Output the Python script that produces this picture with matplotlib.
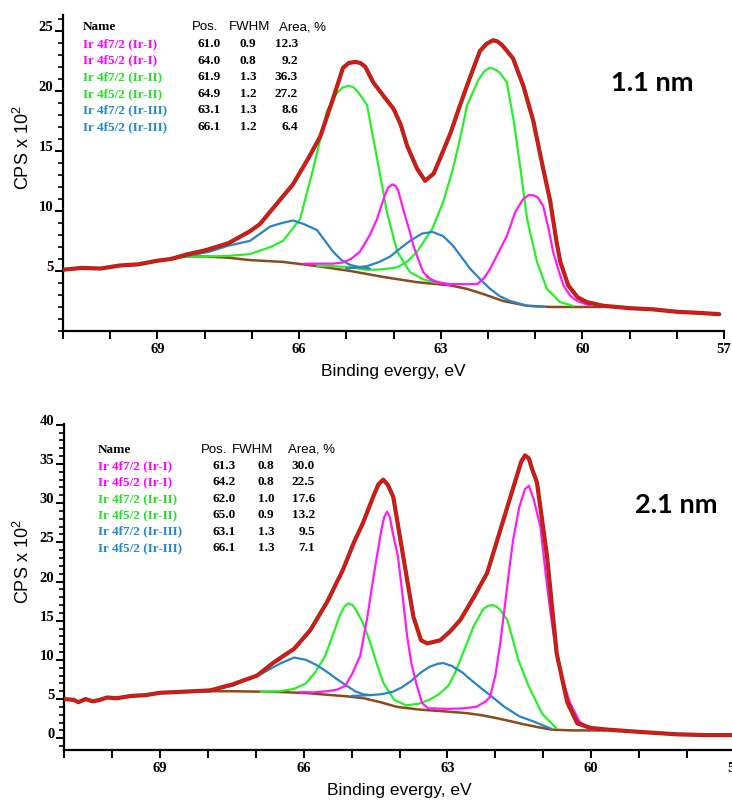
import matplotlib
matplotlib.use("Agg")
import matplotlib.pyplot as plt
from matplotlib.ticker import MultipleLocator

# ---------------- fit table (both films) ----------------
comp_names = ["Ir 4f7/2 (Ir-I)", "Ir 4f5/2 (Ir-I)", "Ir 4f7/2 (Ir-II)",
              "Ir 4f5/2 (Ir-II)", "Ir 4f7/2 (Ir-III)", "Ir 4f5/2 (Ir-III)"]
pos_11 = [61.0, 64.0, 61.9, 64.9, 63.1, 66.1]
fwhm_11 = [0.9, 0.8, 1.3, 1.2, 1.3, 1.2]
area_11 = [12.3, 9.2, 36.3, 27.2, 8.6, 6.4]
pos_21 = [61.3, 64.2, 62.0, 65.0, 63.1, 66.1]
fwhm_21 = [0.8, 0.8, 1.0, 0.9, 1.3, 1.3]
area_21 = [30.0, 22.5, 17.6, 13.2, 9.5, 7.1]

# ---------------- 1.1 nm spectrum ----------------
red_11_x = [71.0, 70.6, 70.2, 69.8, 69.4, 69.0, 68.7, 68.4, 68.0, 67.5, 67.04, 66.83,
            66.47, 66.13, 65.8, 65.55, 65.3, 65.07, 64.95, 64.81, 64.7, 64.6, 64.43,
            64.2, 64.0, 63.85, 63.71, 63.5, 63.33, 63.15, 63.01, 62.8, 62.59, 62.38,
            62.17, 62.03, 61.89, 61.8, 61.7, 61.47, 61.25, 61.04, 60.83, 60.68, 60.55,
            60.47, 60.3, 60.1, 59.9, 59.56, 59.0, 58.5, 58.0, 57.5, 57.1]
red_11_y = [5.1, 5.25, 5.2, 5.45, 5.55, 5.85, 6.0, 6.35, 6.7, 7.3, 8.3, 8.9, 10.6, 12.2,
            14.4, 16.2, 19.1, 21.9, 22.3, 22.4, 22.3, 22.0, 20.7, 19.5, 18.5, 17.2,
            15.4, 13.5, 12.5, 13.1, 14.4, 16.4, 18.8, 21.1, 23.3, 23.9, 24.2, 24.1,
            23.8, 22.7, 20.4, 17.5, 13.5, 10.8, 7.5, 5.8, 3.8, 2.8, 2.4, 2.1, 1.9, 1.8,
            1.6, 1.5, 1.4]
bg_11_x = [68.8, 68.4, 68.0, 67.5, 67.04, 66.34, 65.62, 64.92, 64.22, 63.5, 62.8,
           62.44, 62.1, 61.68, 61.17, 60.68, 60.2, 59.6]
bg_11_y = [5.95, 6.2, 6.2, 6.1, 5.9, 5.75, 5.4, 5.0, 4.5, 4.06, 3.8, 3.5, 3.08, 2.5,
           2.1, 2.0, 2.0, 2.0]
mag7_11_x = [63.3, 63.08, 62.8, 62.5, 62.23, 62.08, 61.95, 61.78, 61.6, 61.42, 61.25,
             61.14, 61.04, 60.94, 60.83, 60.72, 60.62, 60.5, 60.4, 60.25, 60.11, 59.83]
mag7_11_y = [4.5, 4.06, 3.9, 3.9, 3.9, 4.4, 5.2, 6.5, 7.9, 9.9, 11.0, 11.3, 11.3, 11.1,
             10.4, 8.6, 6.6, 5.0, 3.8, 2.9, 2.5, 2.1]
mag5_11_x = [65.9, 65.62, 65.3, 65.07, 64.9, 64.71, 64.5, 64.35, 64.2, 64.12, 64.03,
             63.96, 63.9, 63.8, 63.65, 63.58, 63.45, 63.37, 63.2, 63.0, 62.8]
mag5_11_y = [5.6, 5.6, 5.6, 5.7, 6.0, 6.6, 8.0, 9.3, 11.1, 11.9, 12.2, 12.1, 11.7, 10.2,
             8.2, 7.1, 5.7, 4.9, 4.25, 4.0, 3.8]
grn7_11_x = [65.62, 65.28, 64.92, 64.6, 64.35, 64.1, 63.92, 63.7, 63.5, 63.18, 62.95,
             62.74, 62.59, 62.44, 62.2, 62.08, 61.97, 61.86, 61.75, 61.6, 61.45, 61.3,
             61.17, 60.96, 60.75, 60.47, 60.2]
grn7_11_y = [5.4, 5.4, 5.3, 5.1, 5.1, 5.2, 5.3, 5.8, 6.6, 8.5, 10.7, 13.5, 16.0, 18.8,
             20.9, 21.6, 21.9, 21.8, 21.5, 20.7, 17.4, 13.2, 9.3, 5.75, 3.5, 2.4, 2.1]
grn5_11_x = [68.4, 68.0, 67.5, 67.04, 66.6, 66.34, 65.98, 65.7, 65.41, 65.2, 65.08,
             64.96, 64.85, 64.75, 64.56, 64.35, 64.14, 63.92, 63.65, 63.37, 63.08]
grn5_11_y = [6.2, 6.2, 6.25, 6.4, 7.0, 7.5, 9.3, 13.5, 18.3, 19.8, 20.25, 20.4, 20.3,
             19.9, 18.8, 14.4, 9.9, 6.6, 4.9, 4.3, 4.0]
blu7_11_x = [65.0, 64.76, 64.56, 64.3, 64.07, 63.85, 63.65, 63.4, 63.18, 62.95, 62.74,
             62.55, 62.38, 62.15, 61.95, 61.75, 61.53, 61.17, 60.8]
blu7_11_y = [5.2, 5.3, 5.4, 5.75, 6.2, 6.9, 7.5, 8.1, 8.25, 7.9, 7.1, 6.1, 5.2, 4.25,
             3.5, 2.9, 2.5, 2.1, 2.0]
blu5_11_x = [68.7, 68.3, 67.9, 67.5, 67.04, 66.61, 66.35, 66.13, 65.9, 65.62, 65.45,
             65.28, 65.1, 64.92, 64.7, 64.5]
blu5_11_y = [6.1, 6.3, 6.6, 7.1, 7.5, 8.7, 9.0, 9.2, 8.9, 8.4, 7.5, 6.6, 5.9, 5.5, 5.3,
             5.2]

# ---------------- 2.1 nm spectrum ----------------
red_21_x = [71.0, 70.8, 70.7, 70.55, 70.4, 70.25, 70.1, 69.9, 69.6, 69.3, 69.0, 68.64,
            68.3, 67.95, 67.47, 66.97, 66.64, 66.4, 66.2, 65.86, 65.5, 65.18, 64.95,
            64.76, 64.55, 64.44, 64.34, 64.24, 64.13, 63.92, 63.71, 63.55, 63.42, 63.15,
            62.95, 62.73, 62.45, 62.17, 61.95, 61.75, 61.55, 61.46, 61.38, 61.3, 61.23,
            61.13, 60.92, 60.72, 60.5, 60.29, 60.0, 59.66, 58.97, 58.2, 57.6, 57.0]
red_21_y = [5.0, 4.9, 4.6, 5.0, 4.7, 4.9, 5.2, 5.1, 5.4, 5.5, 5.8, 5.9, 6.0, 6.1, 6.9,
            8.0, 9.6, 10.6, 11.4, 13.8, 17.5, 21.5, 25.0, 27.5, 30.8, 32.4, 33.0, 32.3,
            30.8, 23.1, 15.5, 12.5, 12.1, 12.5, 13.6, 15.1, 18.0, 21.1, 25.5, 29.5,
            33.5, 35.3, 36.1, 35.7, 34.3, 32.6, 23.1, 10.8, 4.6, 1.9, 1.3, 1.1, 0.8,
            0.5, 0.4, 0.4]
bg_21_x = [68.64, 68.0, 67.47, 66.49, 65.9, 65.51, 65.1, 64.74, 64.4, 64.05, 63.57,
           63.1, 62.59, 62.3, 62.0, 61.7, 61.42, 61.1, 60.83, 60.4, 60.06, 59.7]
bg_21_y = [5.9, 6.0, 6.0, 5.9, 5.75, 5.55, 5.35, 5.1, 4.6, 4.0, 3.65, 3.45, 3.2, 2.95,
           2.6, 2.2, 1.8, 1.4, 1.1, 1.0, 1.0, 1.0]
mag7_21_x = [63.28, 63.0, 62.7, 62.4, 62.2, 62.11, 62.0, 61.9, 61.8, 61.7, 61.63, 61.5,
             61.38, 61.3, 61.2, 61.06, 60.95, 60.85, 60.72, 60.6, 60.44, 60.25, 60.06,
             59.9]
mag7_21_y = [3.8, 3.75, 3.8, 4.0, 4.7, 5.3, 8.0, 12.0, 17.0, 22.0, 25.3, 29.5, 31.8,
             32.2, 30.5, 27.0, 21.0, 16.0, 10.5, 7.5, 4.5, 2.2, 1.2, 1.0]
mag5_21_x = [66.09, 65.8, 65.51, 65.3, 65.13, 64.98, 64.82, 64.67, 64.51, 64.38, 64.32,
             64.26, 64.2, 64.15, 64.03, 63.95, 63.84, 63.75, 63.65, 63.53, 63.4, 63.28]
mag5_21_y = [5.9, 5.85, 6.0, 6.2, 6.7, 8.3, 10.5, 15.5, 21.8, 26.5, 28.2, 28.9, 28.2,
             26.5, 23.1, 19.0, 13.0, 9.5, 7.0, 4.5, 3.8, 3.8]
grn7_21_x = [63.86, 63.6, 63.38, 63.18, 62.98, 62.85, 62.73, 62.6, 62.46, 62.25, 62.15,
             62.06, 61.98, 61.9, 61.75, 61.63, 61.52, 61.31, 61.02, 60.73]
grn7_21_y = [4.2, 4.4, 4.9, 5.6, 6.7, 8.2, 10.0, 12.0, 14.2, 16.5, 16.9, 17.0, 16.8,
             16.4, 15.1, 12.5, 10.0, 6.7, 3.1, 1.3]
grn5_21_x = [66.9, 66.5, 66.2, 65.95, 65.76, 65.55, 65.4, 65.25, 65.15, 65.07, 64.98,
             64.9, 64.76, 64.6, 64.5, 64.34, 64.11, 63.86]
grn5_21_y = [5.9, 6.0, 6.3, 7.0, 8.4, 10.5, 13.0, 15.6, 16.8, 17.2, 17.0, 16.3, 14.7,
             12.0, 10.0, 7.1, 4.9, 4.2]
blu7_21_x = [65.0, 64.8, 64.64, 64.4, 64.15, 63.95, 63.76, 63.55, 63.38, 63.2, 63.09,
             62.9, 62.69, 62.5, 62.3, 62.05, 61.81, 61.5, 61.23, 60.83]
blu7_21_y = [5.4, 5.45, 5.5, 5.6, 5.9, 6.5, 7.3, 8.4, 9.1, 9.5, 9.6, 9.2, 8.4, 7.4, 6.4,
             5.2, 4.0, 2.8, 2.2, 1.2]
blu5_21_x = [68.3, 67.9, 67.47, 67.2, 66.89, 66.5, 66.2, 65.95, 65.72, 65.52, 65.32,
             65.1, 64.93, 64.75, 64.6]
blu5_21_y = [6.0, 6.2, 6.7, 7.5, 8.2, 9.5, 10.3, 10.0, 9.3, 8.5, 7.6, 6.7, 6.0, 5.6, 5.5]

# ---------------- styling ----------------
RED, FIT, BG = "#e5121b", "#7a3a12", "#8b4a1a"
MAG, GRN, BLU = "#ff1cf2", "#28f028", "#2a84c4"
txt_cols = ["#ff00ff", "#ff00ff", "#22e022", "#22e022", "#2288cc", "#2288cc"]
SERIF, SANS = "Liberation Serif", "Liberation Sans"

W, H = 732, 805
fig = plt.figure(figsize=(W / 100, H / 100), dpi=100)


def fxy(px, py):
    return px / W, 1 - py / H


def draw_panel(rect, xlim, ylim, yticks, curves, ylab_xy):
    ax = fig.add_axes(rect)
    line_kw = dict(solid_joinstyle="round", solid_capstyle="round")
    x_bg, y_bg = curves["bg"]
    ax.plot(x_bg, y_bg, color=BG, lw=1.8, zorder=2, **line_kw)
    for (x, y), c in curves["comps"]:
        ax.plot(x, y, color=c, lw=1.6, zorder=3, **line_kw)
    x_r, y_r = curves["red"]
    ax.plot(x_r, y_r, color=FIT, lw=3.0, zorder=4, **line_kw)
    ax.plot(x_r, y_r, color=RED, lw=1.9, zorder=5, **line_kw)

    ax.set_xlim(*xlim)
    ax.set_ylim(*ylim)
    for s in ("top", "right"):
        ax.spines[s].set_visible(False)
    for s in ("left", "bottom"):
        ax.spines[s].set_linewidth(1.6)
    xt = [69, 66, 63, 60, 57]
    ax.set_xticks(xt, labels=[str(v) for v in xt], family=SERIF,
                  fontweight="bold", fontsize=10.5)
    ax.set_yticks(yticks, labels=[str(v) for v in yticks], family=SERIF,
                  fontweight="bold", fontsize=10.5, va="baseline")
    ax.xaxis.set_minor_locator(MultipleLocator(1))
    ax.yaxis.set_minor_locator(MultipleLocator(1))
    ax.tick_params(axis="x", which="both", direction="out", length=5.5,
                   width=1.4, pad=3)
    ax.tick_params(axis="y", which="major", length=6, width=1.4, pad=1)
    ax.tick_params(axis="y", which="minor", length=3.5, width=1.2)
    ax.set_xlabel("Binding evergy, eV", family=SANS, fontsize=12.5, labelpad=6)
    ax.set_ylabel("CPS x 10$^\\mathregular{2}$", family=SANS, fontsize=13)
    ax.yaxis.set_label_coords(*ylab_xy)
    return ax


def draw_table(name_x, row0, dy, hdr_x, col_x, pos, fwhm, area):
    fs = 9.5
    fig.text(*fxy(name_x, row0 - dy), "Name", family=SERIF, fontweight="bold",
             fontsize=fs, va="center", ha="left")
    for h, x in zip(["Pos.", "FWHM", "Area, %"], hdr_x):
        fig.text(*fxy(x, row0 - dy), h, family=SANS, fontsize=fs, va="center",
                 ha="left")
    for i, name in enumerate(comp_names):
        y = row0 + i * dy
        fig.text(*fxy(name_x, y), name, family=SERIF, fontweight="bold",
                 fontsize=fs, color=txt_cols[i], va="center", ha="left")
        fig.text(*fxy(col_x[0], y), f"{pos[i]:.1f}", family=SERIF,
                 fontweight="bold", fontsize=fs, va="center", ha="center")
        fig.text(*fxy(col_x[1], y), f"{fwhm[i]:.1f}", family=SERIF,
                 fontweight="bold", fontsize=fs, va="center", ha="center")
        fig.text(*fxy(col_x[2], y), f"{area[i]:.1f}", family=SERIF,
                 fontweight="bold", fontsize=fs, va="center", ha="right")


# top panel: 1.1 nm
curves_11 = {
    "bg": (bg_11_x, bg_11_y),
    "red": (red_11_x, red_11_y),
    "comps": [((grn5_11_x, grn5_11_y), GRN), ((grn7_11_x, grn7_11_y), GRN),
              ((blu5_11_x, blu5_11_y), BLU), ((blu7_11_x, blu7_11_y), BLU),
              ((mag5_11_x, mag5_11_y), MAG), ((mag7_11_x, mag7_11_y), MAG)],
}
draw_panel([63 / W, 1 - 331 / H, 661 / W, 316 / H], (71, 57), (0, 26.3),
           [5, 10, 15, 20, 25], curves_11, (-0.046, 0.58))
draw_table(83, 44, 16.6, [192, 229, 279], [209, 248, 298], pos_11, fwhm_11, area_11)
fig.text(*fxy(652, 83), "1.1 nm", family="Lato", fontweight="bold", fontsize=19.5,
         ha="center", va="center")

# bottom panel: 2.1 nm
curves_21 = {
    "bg": (bg_21_x, bg_21_y),
    "red": (red_21_x, red_21_y),
    "comps": [((grn5_21_x, grn5_21_y), GRN), ((grn7_21_x, grn7_21_y), GRN),
              ((blu5_21_x, blu5_21_y), BLU), ((blu7_21_x, blu7_21_y), BLU),
              ((mag5_21_x, mag5_21_y), MAG), ((mag7_21_x, mag7_21_y), MAG)],
}
draw_panel([64 / W, 1 - 750 / H, 671 / W, 326 / H], (71, 57), (-1.5, 40.1),
           [0, 5, 10, 15, 20, 25, 30, 35, 40], curves_21, (-0.046, 0.577))
draw_table(98, 466, 16.4, [201, 232, 288], [224, 266, 315], pos_21, fwhm_21, area_21)
fig.text(*fxy(676, 505), "2.1 nm", family="Lato", fontweight="bold", fontsize=19.5,
         ha="center", va="center")

fig.savefig("out.png", dpi=100)
